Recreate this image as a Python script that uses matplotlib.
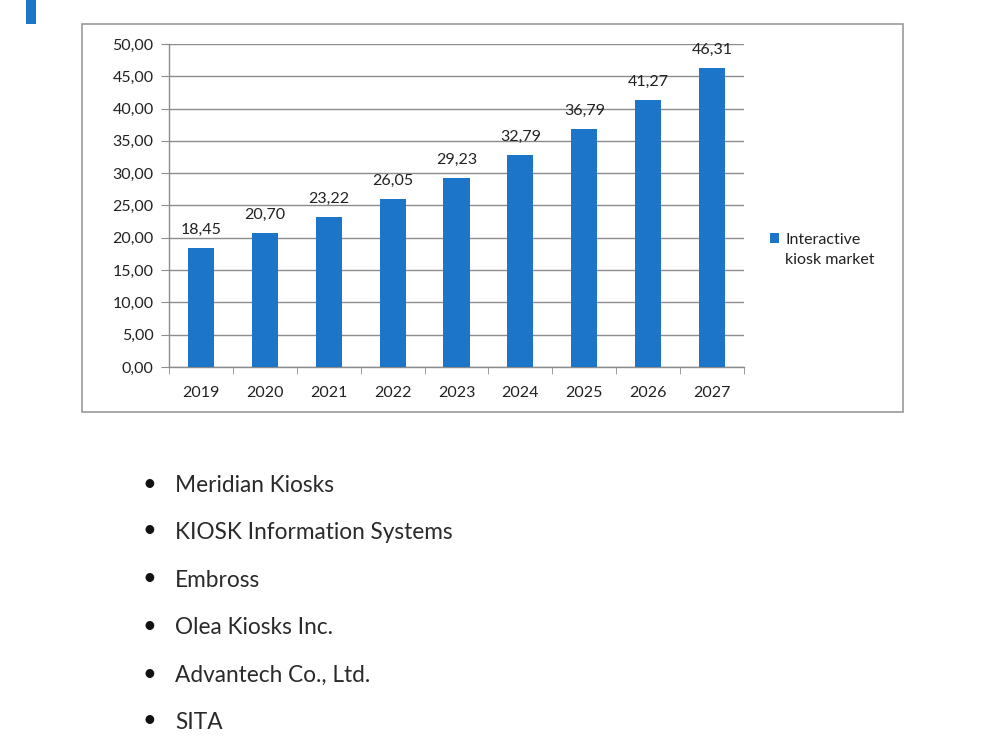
import matplotlib.pyplot as plt
from matplotlib.patches import Rectangle

years = ['2019', '2020', '2021', '2022', '2023', '2024', '2025', '2026', '2027']
market = [18.45, 20.70, 23.22, 26.05, 29.23, 32.79, 36.79, 41.27, 46.31]
companies = ['Meridian Kiosks', 'KIOSK Information Systems', 'Embross',
             'Olea Kiosks Inc.', 'Advantech Co., Ltd.', 'SITA']

blue = '#1C75C8'
grid_c = '#8c8c8c'
txt_c = '#222222'
fs = 11.5
plt.rcParams['font.family'] = ['Lato', 'DejaVu Sans']

fig = plt.figure(figsize=(10, 7.5), dpi=100)

# chart frame and the page decorations
fig.patches.append(Rectangle((0.082, 0.4507), 0.821, 0.5173, transform=fig.transFigure,
                             fill=False, edgecolor='#9a9a9a', lw=1.2))
fig.patches.append(Rectangle((0.026, 0.968), 0.010, 0.034, transform=fig.transFigure,
                             color=blue, lw=0))

ax = fig.add_axes([0.169, 0.5107, 0.575, 0.4307])
x = list(range(len(years)))
ax.bar(x, market, width=0.41, color=blue, label='Interactive', zorder=3)
for xi, v in zip(x, market):
    ax.annotate(f'{v:.2f}'.replace('.', ','), (xi, v), xytext=(0, 13), textcoords='offset points',
                ha='center', va='center', fontsize=fs, color=txt_c)

ax.set_xlim(-0.5, len(years) - 0.5)
ax.set_ylim(0, 50)
ax.set_yticks(range(0, 51, 5))
ax.set_yticklabels([f'{v:.2f}'.replace('.', ',') for v in range(0, 51, 5)], fontsize=fs)
ax.set_xticks(x)
ax.set_xticklabels(years, fontsize=fs)
ax.set_xticks([i - 0.5 for i in range(len(years) + 1)], minor=True)
ax.tick_params(axis='x', which='major', length=0, pad=14, labelcolor=txt_c)
ax.tick_params(axis='x', which='minor', length=5, color=grid_c, direction='out')
ax.tick_params(axis='y', length=6, color=grid_c, direction='out', pad=5, labelcolor=txt_c)
ax.yaxis.grid(True, color=grid_c, lw=1, zorder=0)
for s in ['top', 'right']:
    ax.spines[s].set_visible(False)
for s in ['left', 'bottom']:
    ax.spines[s].set_color(grid_c)
    ax.spines[s].set_linewidth(1)

leg = ax.legend(loc='center left', bbox_to_anchor=(1.045, 0.393), frameon=False, fontsize=fs,
                handlelength=0.6, handleheight=0.6, handletextpad=0.35, borderaxespad=0,
                borderpad=0)
for t in leg.get_texts():
    t.set_color(txt_c)
fig.text(0.785, 1 - 260 / 750, 'kiosk market', ha='left', va='center', fontsize=fs,
         color=txt_c)

# bullet list below the chart
ys = [484, 531, 579, 626, 674, 721]
for name, yp in zip(companies, ys):
    fy = 1 - yp / 750
    fig.text(0.149, fy, '\u2022', ha='center', va='center', fontsize=17, color='#111111')
    fig.text(0.175, fy - 0.002, name, ha='left', va='center', fontsize=16.3, color='#2a2a2a')

fig.savefig('out.png', dpi=100)
